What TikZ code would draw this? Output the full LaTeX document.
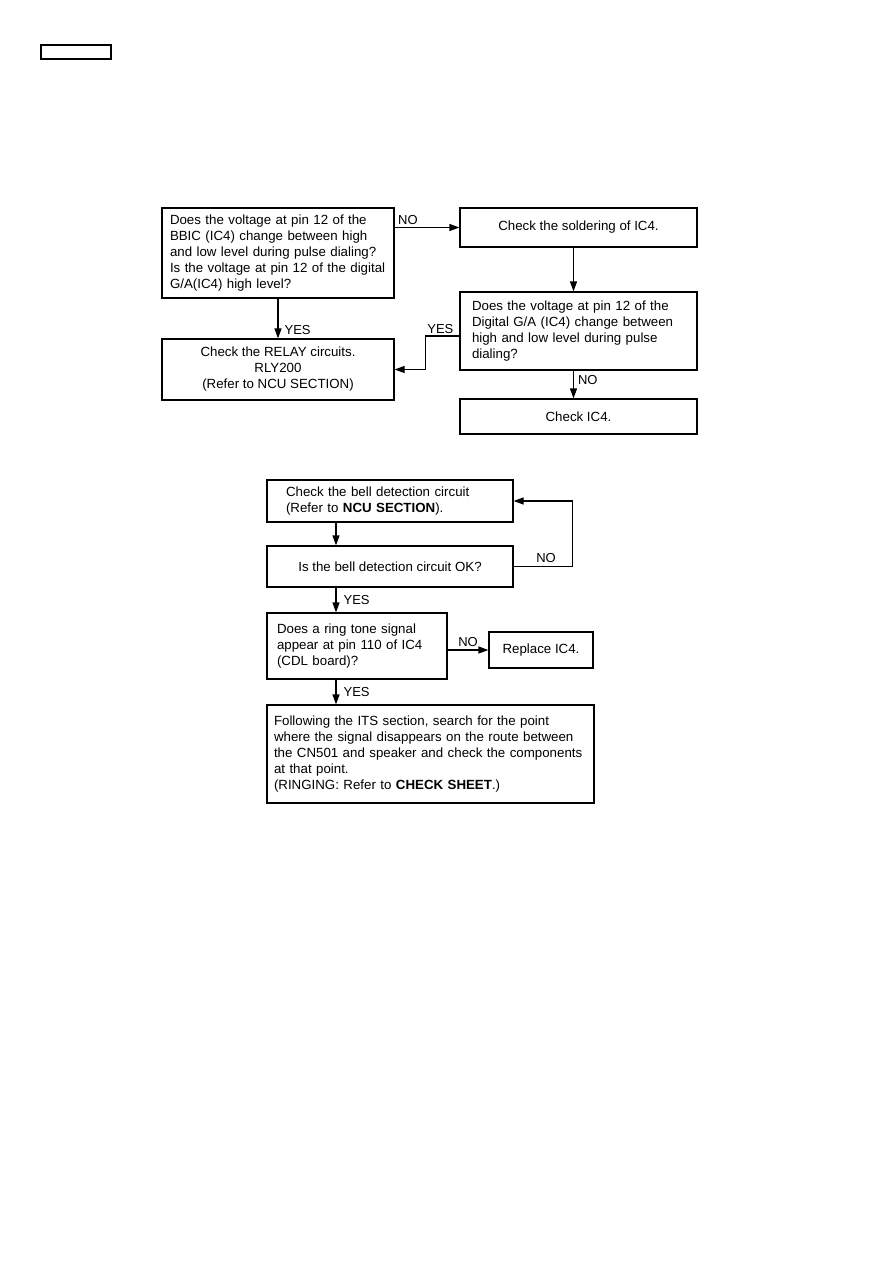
\documentclass[tikz,border=0pt]{standalone}
\usepackage{fontspec}
\setmainfont{Liberation Sans}
\usetikzlibrary{arrows.meta, positioning}
\tikzset{
  stepbox/.style={draw=black,line width=1.2pt,inner sep=0pt,font=\fontsize{13.3}{16}\selectfont},
  leftbox/.style={stepbox,align=left},
  midbox/.style={stepbox,align=center},
  tabbox/.style={draw=black,line width=1.1pt,inner sep=0pt,minimum width=70pt,minimum height=14pt},
  diredge/.style={-{Triangle[length=10pt,width=7pt]},line width=1.2pt,black},
  edgelbl/.style={font=\fontsize{13}{15}\selectfont,inner sep=2pt},
}

\begin{document}
\begin{tikzpicture}[x=1pt,y=-1pt]
  \useasboundingbox (0,0) rectangle (893,1263);
  \node[tabbox] (nTab) at (76,52) {};
  % pulse dialing check
  \node[leftbox,text width=216pt,inner xsep=8pt,minimum height=90pt] (nPin) at (278,253)
    {Does the voltage at pin 12 of the\\BBIC (IC4) change between high\\and low level during pulse dialing?\\Is the voltage at pin 12 of the digital\\G/A(IC4) high level?};
  \node[midbox,minimum width=237pt,minimum height=39pt] (nSold) at (578.5,227.5) {Check the soldering of IC4.};
  \node[leftbox,text width=213pt,inner xsep=12pt,minimum height=78pt] (nDig) at (578.5,331)
    {Does the voltage at pin 12 of the\\Digital G/A (IC4) change between\\high and low level during pulse\\dialing?};
  \node[midbox,minimum width=232pt,minimum height=61pt] (nRelay) at (278,369.5)
    {Check the RELAY circuits.\\RLY200\\(Refer to NCU SECTION)};
  \node[midbox,minimum width=237pt,minimum height=35pt] (nIC) at (578.5,416.5) {Check IC4.};
  \draw[diredge] (nPin.east |- nSold.west) -- node[edgelbl,pos=0,above right,xshift=1pt] {NO} (nSold.west);
  \draw[diredge] ([xshift=-5pt]nSold.south) -- ([xshift=-5pt]nDig.north);
  \draw[diredge] (nPin.south) -- node[edgelbl,pos=0.78,right,xshift=4pt] {YES} (nRelay.north);
  \draw[diredge] ([yshift=-5pt]nDig.west) -- node[edgelbl,midway,above,xshift=-2pt] {YES} ++(-34,0) |- (nRelay.east);
  \draw[diredge] ([xshift=-5pt]nDig.south) -- node[edgelbl,pos=0.35,right,xshift=2pt] {NO} ([xshift=-5pt]nIC.north);
  % ringing check
  \node[leftbox,text width=208pt,inner xsep=19pt,minimum height=42pt] (nBell) at (390,501)
    {Check the bell detection circuit\\(Refer to \textbf{NCU SECTION}).};
  \node[midbox,minimum width=246pt,minimum height=41pt] (nBellOK) at (390,566.5) {Is the bell detection circuit OK?};
  \node[leftbox,text width=160pt,inner xsep=10pt,minimum height=66pt] (nRing) at (357,646)
    {Does a ring tone signal\\appear at pin 110 of IC4\\(CDL board)?};
  \node[midbox,minimum width=104pt,minimum height=36pt] (nRepl) at (541,650) {Replace IC4.};
  \node[leftbox,text width=313pt,inner xsep=7pt,minimum height=98pt] (nITS) at (430.5,754)
    {Following the ITS section, search for the point\\where the signal disappears on the route between\\the CN501 and speaker and check the components\\at that point.\\(RINGING: Refer to \textbf{CHECK SHEET}.)};
  \draw[diredge] ([xshift=-54pt]nBell.south) -- ([xshift=-54pt]nBellOK.north);
  \draw[diredge] (nBellOK.east) -- node[edgelbl,pos=0.55,above,yshift=1pt] {NO} ++(59,0) |- (nBell.east);
  \draw[diredge] ([xshift=-54pt]nBellOK.south) -- node[edgelbl,midway,right,xshift=5pt] {YES} ([xshift=-21pt]nRing.north);
  \draw[diredge] (nRing.east |- nRepl.west) -- node[edgelbl,midway,above,yshift=1pt] {NO} (nRepl.west);
  \draw[diredge] ([xshift=-21pt]nRing.south) -- node[edgelbl,midway,right,xshift=5pt] {YES} ([xshift=-94.5pt]nITS.north);
\end{tikzpicture}
\end{document}
